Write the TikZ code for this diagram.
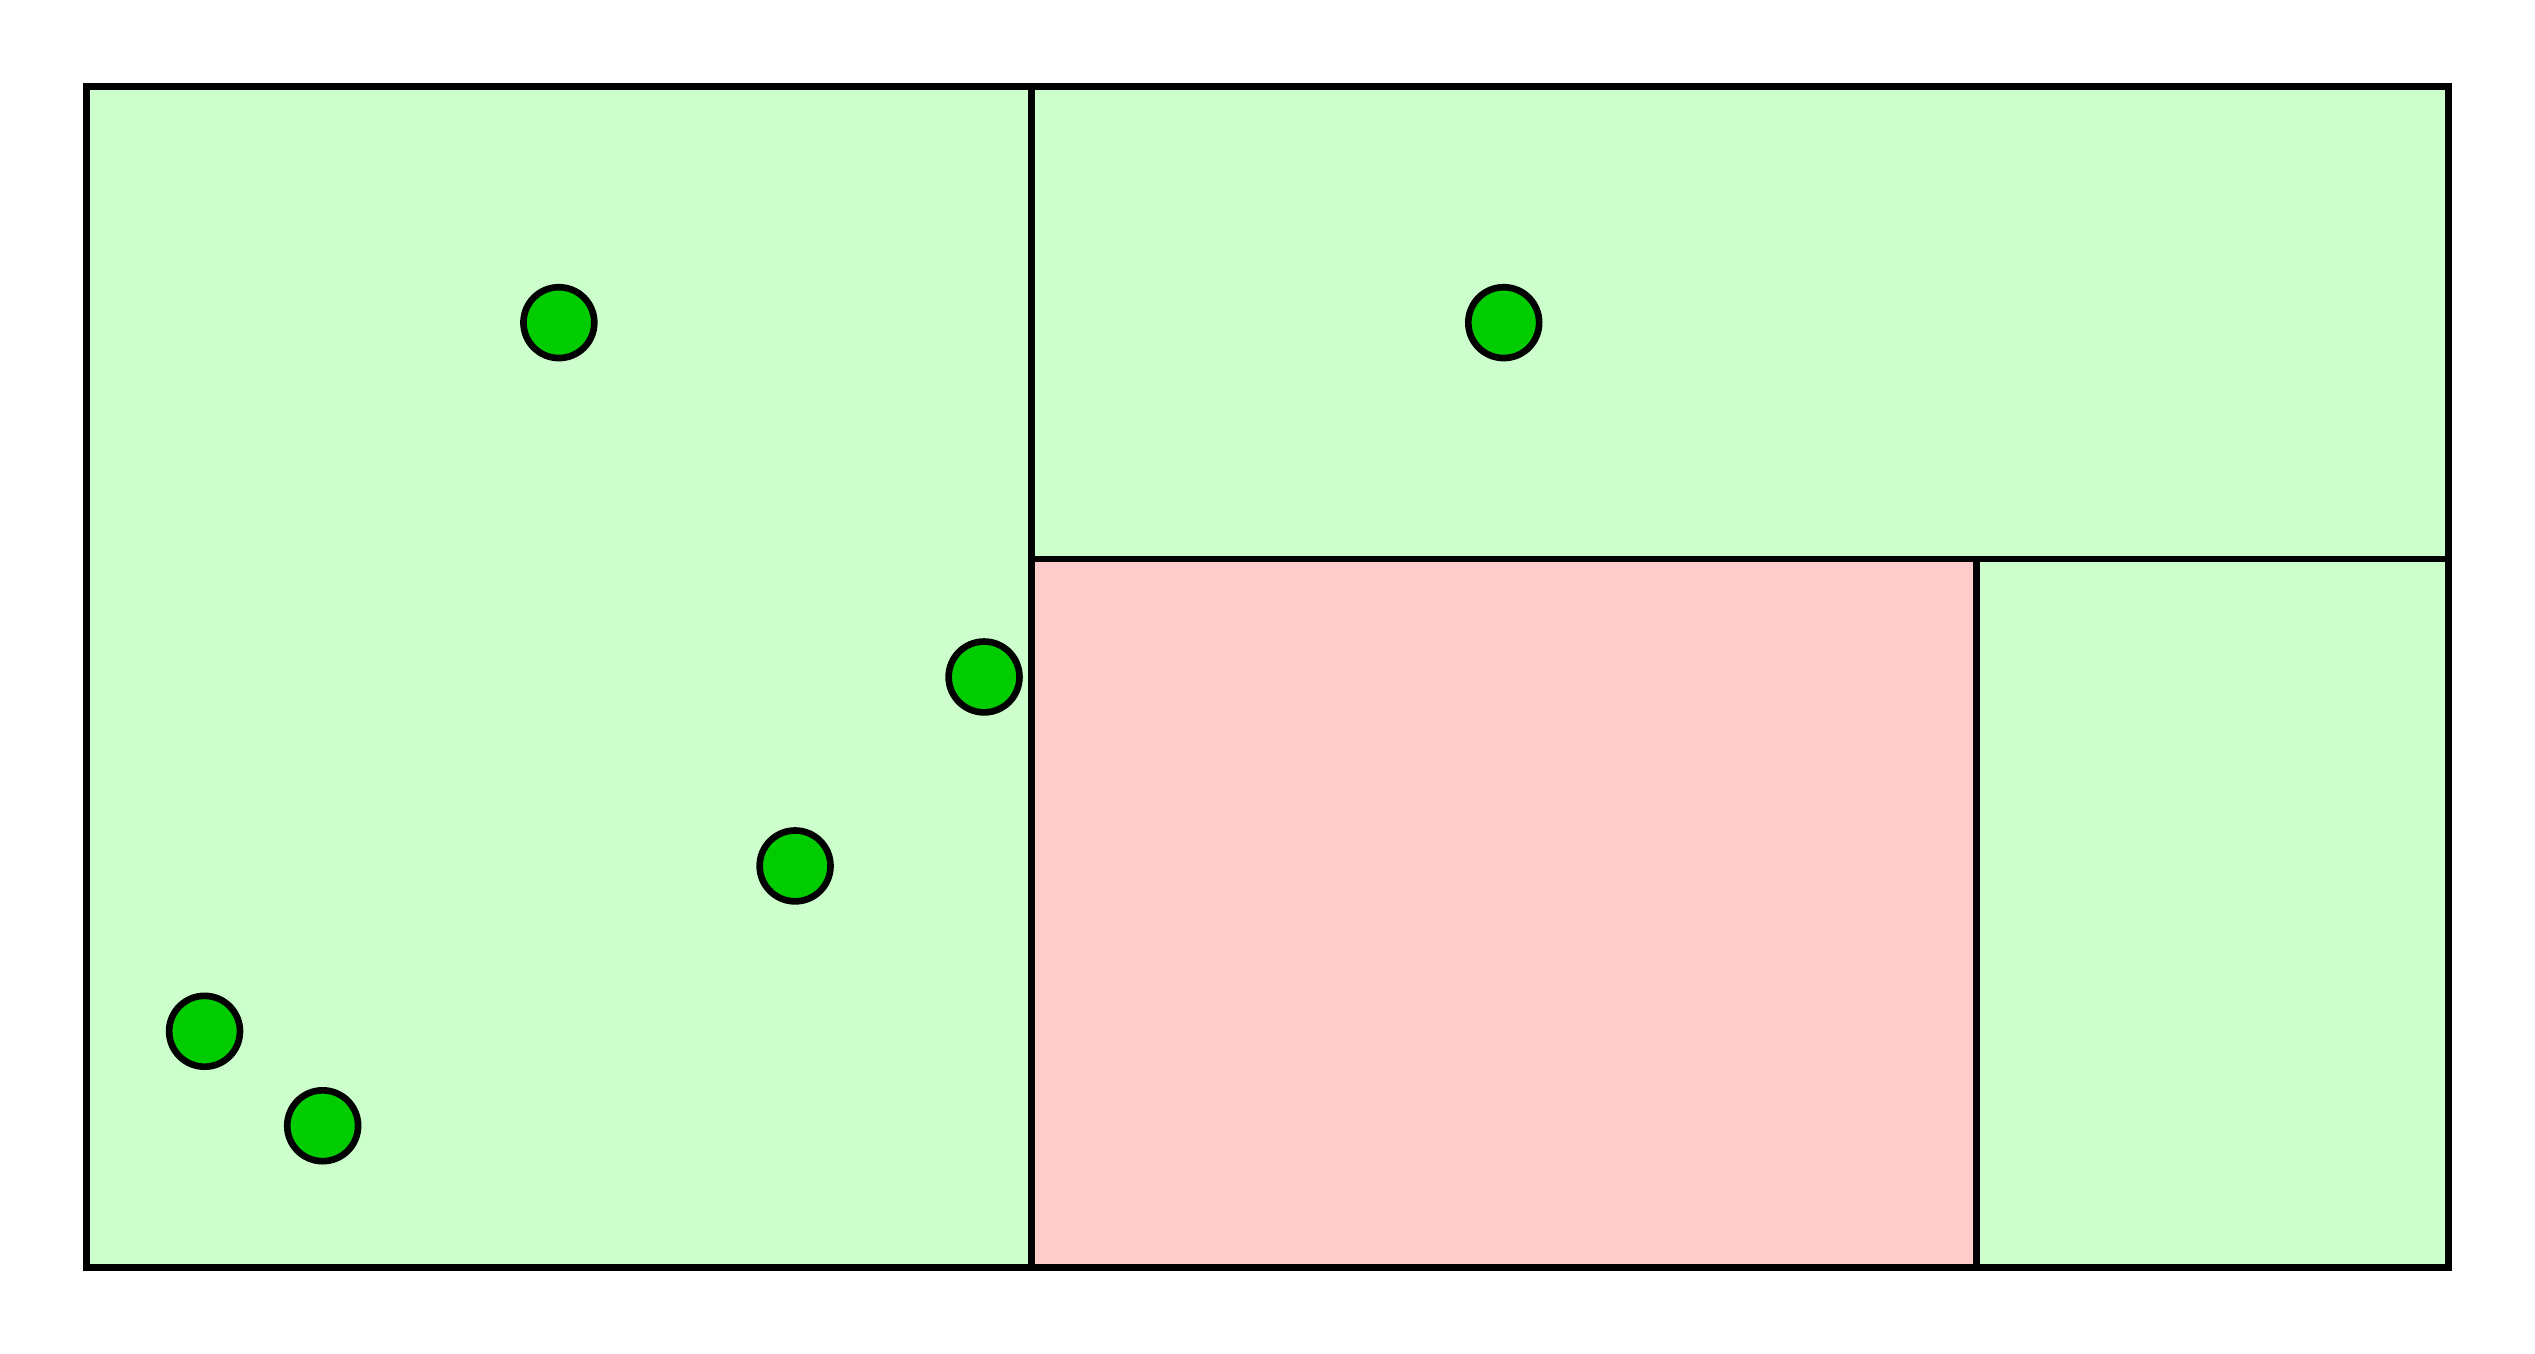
\documentclass[tikz,border=0pt]{standalone}
\usepackage{tikz}
\definecolor{cellok}{HTML}{CCFFCC}
\definecolor{cellbad}{HTML}{FFCCCC}
\definecolor{ptgreen}{HTML}{00CC00}
\begin{document}
\begin{tikzpicture}[line width=0.8pt,
    cell/.style={draw=black, fill=cellok},
    badcell/.style={draw=black, fill=cellbad},
    pt/.style={circle, draw=black, fill=ptgreen, inner sep=0pt, minimum size=0.3cm}]
        \useasboundingbox (-0.366,-0.366) rectangle (10.366,5.366);
        %celle
        \filldraw[cell] (0,0) rectangle (4,5);
        \filldraw[cell] (4,3) rectangle (10,5);
        \filldraw[badcell] (4,0) rectangle (8,3);
        \filldraw[cell] (8,0) rectangle (10,3);

        %punti
        \foreach \x/\y/\n in {2/4/p1, 6/4/p2, 3.8/2.5/p3, 3/1.7/p4, 0.5/1/p5, 1/0.6/p6}
            \node[pt] (\n) at (\x,\y) {};
    \end{tikzpicture}
\end{document}
